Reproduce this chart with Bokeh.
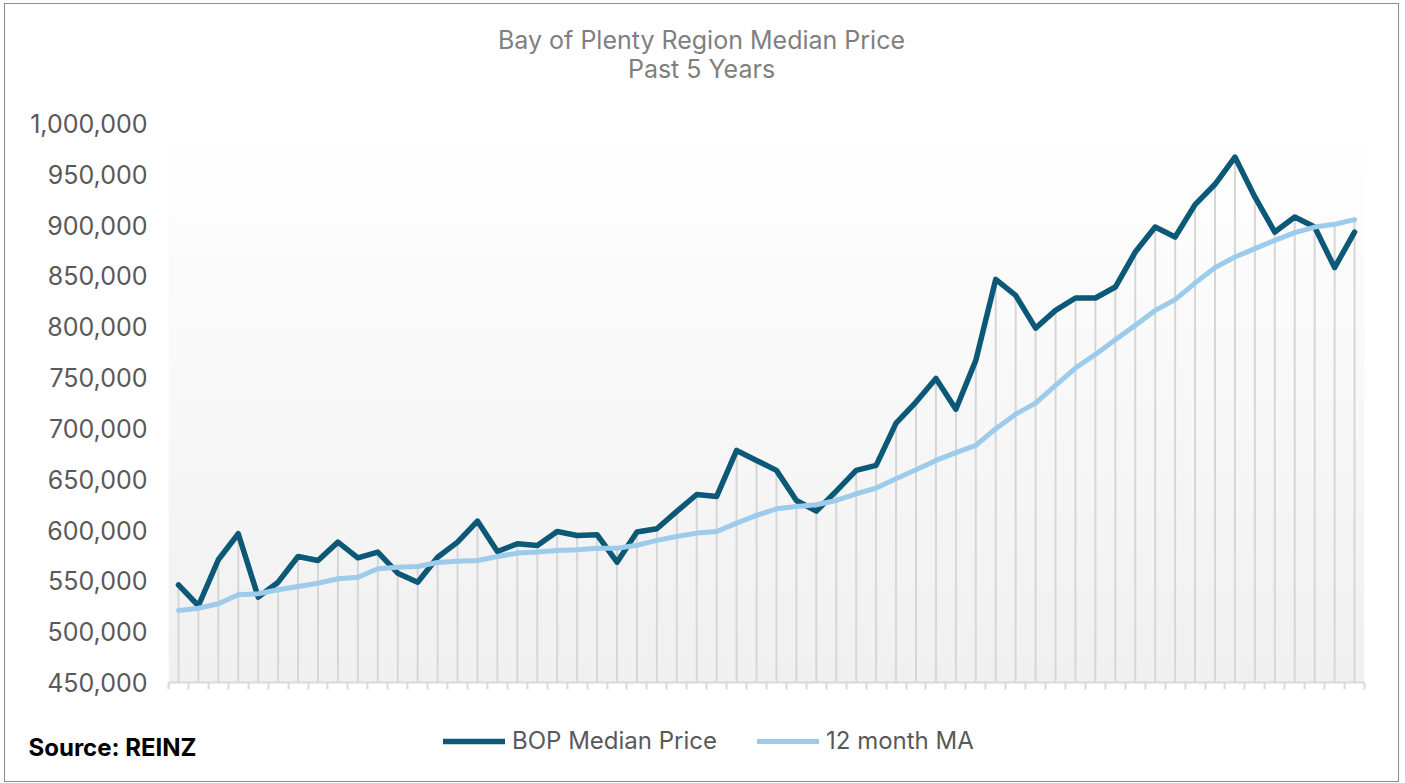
import numpy as np
from bokeh.plotting import figure
from bokeh.layouts import column
from bokeh.models import (FixedTicker, NumeralTickFormatter, Legend, LegendItem, Label,
                          Range1d, CustomJSTickFormatter)
from bokeh.embed import file_html
from bokeh.resources import INLINE

# ---- data ----
month_index = list(range(60))
bop_median = [546000, 525500, 570800, 596400, 534000, 548700, 574000, 570100, 588100, 572700,
              578300, 557600, 548700, 573300, 588100, 608800, 578900, 586500, 584800, 598600,
              594700, 595400, 568400, 598000, 601300, 618300, 635000, 633100, 678300, 668500,
              658700, 629100, 618600, 638300, 658700, 663600, 705200, 725900, 749200, 718900,
              766900, 846700, 830900, 798700, 816100, 828300, 828300, 839100, 873500, 898100,
              888300, 920200, 940200, 967000, 927700, 893200, 908000, 898100, 858200, 893200]
ma_12 = [520900, 523100, 527500, 536300, 537300, 541200, 544500, 547700, 552100, 553600,
         561900, 563500, 564200, 568100, 569400, 570100, 574000, 577300, 578300, 579900,
         580600, 582200, 582000, 585000, 589800, 593700, 597000, 598600, 606800, 614400,
         620900, 623200, 624900, 629100, 635700, 641300, 650500, 659300, 668500, 676100,
         683300, 699700, 714000, 724900, 742300, 759400, 772800, 787300, 801400, 816100,
         826700, 843000, 858200, 868600, 876900, 885000, 892600, 898100, 900800, 905400]
y_ticks = list(range(450000, 1000001, 50000))
series_names = ["BOP Median Price", "12 month MA"]
title_lines = ["Bay of Plenty Region Median Price", "Past 5 Years"]
source_text = "Source: REINZ"

FONT = "Inter"
DARK, LIGHT = "#0b5877", "#9dcbeb"
Y_MIN, Y_MAX = 450000, 1000000
N = len(month_index)
W = 1393
H_TOP, H_MAIN, H_BOT = 100, 600, 77


def strip(height):
    f = figure(width=W, height=height, x_range=Range1d(0, W), y_range=Range1d(0, height),
               output_backend="svg", toolbar_location=None, x_axis_type=None, y_axis_type=None,
               min_border=0, frame_align=False)
    f.outline_line_color = None
    f.xgrid.grid_line_color = None
    f.ygrid.grid_line_color = None
    f.background_fill_color = "white"
    f.border_fill_color = "white"
    return f


# ---- title strip ----
top = strip(H_TOP)
top.add_layout(Label(x=696, y=65, x_units="screen", y_units="screen", text=title_lines[0],
                     text_align="center", text_baseline="middle", text_font=FONT,
                     text_font_size="25px", text_color="#7f7f7f"))
top.add_layout(Label(x=696, y=36, x_units="screen", y_units="screen", text=title_lines[1],
                     text_align="center", text_baseline="middle", text_font=FONT,
                     text_font_size="25px", text_color="#7f7f7f"))

# ---- main chart ----
p = figure(width=W, height=H_MAIN, x_range=Range1d(-0.5, N - 0.5), y_range=Range1d(Y_MIN, Y_MAX),
           output_backend="svg", toolbar_location=None, frame_align=False,
           min_border_left=163, min_border_right=34, min_border_top=19, min_border_bottom=22)
p.background_fill_color = "white"
p.border_fill_color = "white"
p.outline_line_color = None
p.xgrid.grid_line_color = None
p.ygrid.grid_line_color = None

n = 256
img = np.empty((n, 1), dtype=np.uint32)
view = img.view(dtype=np.uint8).reshape((n, 1, 4))
for k in range(n):
    t = k / (n - 1)
    c = int(round(240 + 15 * t))
    view[k, 0, :] = [c, c, c, 255]
p.image_rgba(image=[img], x=-0.5, y=Y_MIN, dw=N, dh=Y_MAX - Y_MIN)

top_vals = [max(a, b) for a, b in zip(bop_median, ma_12)]
p.segment(x0=month_index, y0=[Y_MIN] * N, x1=month_index, y1=top_vals,
          line_color="#d6d6d6", line_width=2)
p.line(month_index, bop_median, line_color=DARK, line_width=5.5, line_join="round", line_cap="round")
p.line(month_index, ma_12, line_color=LIGHT, line_width=5, line_join="round", line_cap="round")

p.yaxis.ticker = FixedTicker(ticks=y_ticks)
p.yaxis.formatter = NumeralTickFormatter(format="0,0")
p.yaxis.axis_line_color = None
p.yaxis.major_tick_line_color = None
p.yaxis.minor_tick_line_color = None
p.yaxis.major_tick_out = 0
p.yaxis.major_tick_in = 0
p.yaxis.major_label_standoff = 21
p.yaxis.major_label_text_font = FONT
p.yaxis.major_label_text_font_size = "25px"
p.yaxis.major_label_text_color = "#595959"

p.xaxis.ticker = FixedTicker(ticks=[i - 0.5 for i in range(N + 1)])
p.xaxis.formatter = CustomJSTickFormatter(code="return ''")
p.xaxis.major_label_text_font_size = "1px"
p.xaxis.major_label_standoff = 0
p.xaxis.axis_line_color = "#d9d9d9"
p.xaxis.axis_line_width = 2
p.xaxis.major_tick_line_color = "#d9d9d9"
p.xaxis.major_tick_line_width = 2
p.xaxis.major_tick_out = 7
p.xaxis.major_tick_in = 0
p.xaxis.minor_tick_line_color = None

# ---- legend / source strip ----
# legend proxies carry the real series but lie outside this strip's ranges (not visible)
bot = strip(H_BOT)
k1 = bot.line(month_index, bop_median, line_color=DARK, line_width=5.5, line_cap="round")
k2 = bot.line(month_index, ma_12, line_color=LIGHT, line_width=5, line_cap="round")
legend = Legend(items=[LegendItem(label=series_names[0], renderers=[k1]),
                       LegendItem(label=series_names[1], renderers=[k2])],
                orientation="horizontal", location=(438, 26),
                glyph_width=62, glyph_height=24, label_height=24, label_standoff=7,
                spacing=40, padding=0, margin=0, border_line_color=None,
                background_fill_alpha=0, label_text_font=FONT, label_text_font_size="24px",
                label_text_color="#595959")
bot.add_layout(legend)
bot.add_layout(Label(x=23, y=34, x_units="screen", y_units="screen", text=source_text,
                     text_align="left", text_baseline="middle", text_font=FONT,
                     text_font_size="24px", text_font_style="bold", text_color="black"))

layout = column(top, p, bot, spacing=0)
layout.styles = {"border": "1px solid #8c8c8c", "margin-left": "4px", "margin-top": "3px"}

open("out.html", "w").write(file_html(layout, INLINE))
